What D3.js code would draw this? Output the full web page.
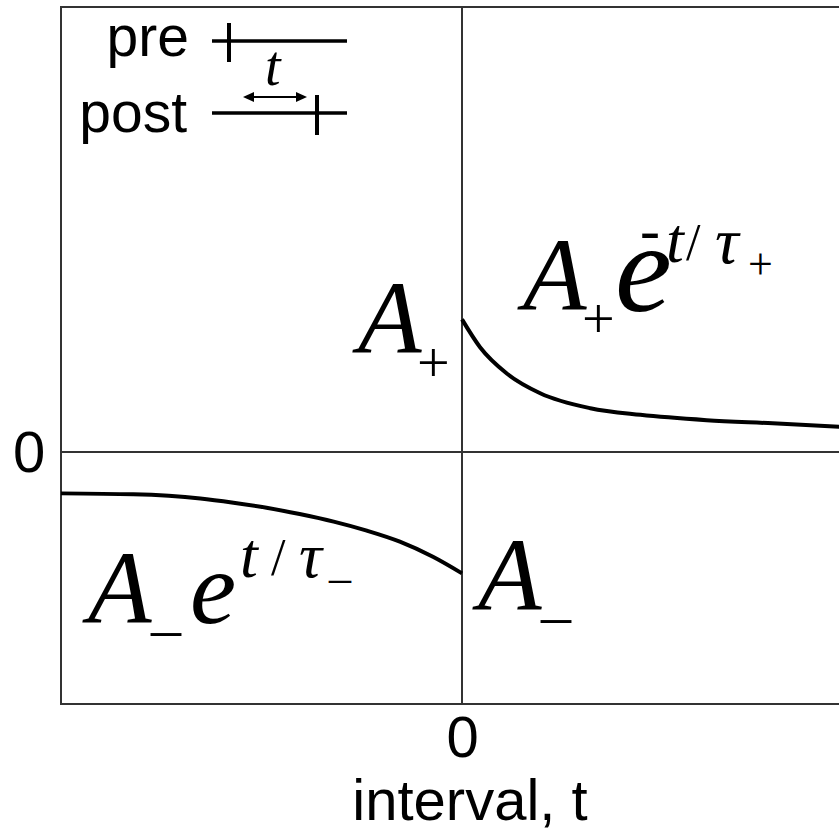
<!DOCTYPE html>
<html>
<head>
<meta charset="utf-8">
<script src="https://cdn.jsdelivr.net/npm/d3@7"></script>
<style>
  html, body { margin: 0; padding: 0; background: #fff; }
  svg { display: block; }
  .sans { font-family: "Liberation Sans", Arial, sans-serif; fill: #000; }
  .math { font-family: "Liberation Serif", "Times New Roman", serif; fill: #000; }
</style>
</head>
<body>
<script>
// STDP window: weight change versus spike interval t (post - pre)
const intervalDomain = [-40, 40];
const weightDomain = [-1.9, 3.355];

// depression branch, t < 0
const preTimes = [-40, -32.8, -26.1, -22.8, -19.5, -16.2, -12.8, -9.5, -6.2, -2.9, 0];
const depressionValues = [-0.312, -0.319, -0.35, -0.382, -0.42, -0.468, -0.525, -0.593, -0.676, -0.79, -0.915];

// potentiation branch, t > 0
const postTimes = [0, 1.8, 4.5, 7.8, 12.8, 17.8, 24.4, 31.0, 37.6, 40];
const potentiationValues = [1.0, 0.79, 0.59, 0.443, 0.33, 0.28, 0.24, 0.216, 0.19, 0.18];

const xTicks = [0];
const yTicks = [0];
const xTitle = "interval, t";

const W = 839, H = 832;
const svg = d3.select("body").append("svg").attr("width", W).attr("height", H);

const x = d3.scaleLinear().domain(intervalDomain).range([61, 863]);
const y = d3.scaleLinear().domain(weightDomain).range([704, 7]);

const axisColor = "#333";

// frame
svg.append("rect")
  .attr("x", x(intervalDomain[0])).attr("y", y(weightDomain[1]))
  .attr("width", x(intervalDomain[1]) - x(intervalDomain[0]))
  .attr("height", y(weightDomain[0]) - y(weightDomain[1]))
  .attr("fill", "none").attr("stroke", axisColor).attr("stroke-width", 2);

// zero lines
svg.append("line")
  .attr("x1", x(intervalDomain[0])).attr("x2", x(intervalDomain[1]))
  .attr("y1", y(0)).attr("y2", y(0))
  .attr("stroke", axisColor).attr("stroke-width", 2);
svg.append("line")
  .attr("x1", x(0)).attr("x2", x(0))
  .attr("y1", y(weightDomain[1])).attr("y2", y(weightDomain[0]))
  .attr("stroke", axisColor).attr("stroke-width", 2);

// axes: only the zero labels
const xAxis = svg.append("g")
  .attr("transform", `translate(0,${y(weightDomain[0])})`)
  .call(d3.axisBottom(x).tickValues(xTicks).tickSize(0).tickPadding(53).tickFormat(d3.format("d")));
xAxis.select(".domain").remove();
xAxis.selectAll("text").attr("class", "sans").attr("font-size", 58).attr("dy", 0);

const yAxis = svg.append("g")
  .attr("transform", `translate(${x(intervalDomain[0])},0)`)
  .call(d3.axisLeft(y).tickValues(yTicks).tickSize(0).tickPadding(0).tickFormat(d3.format("d")));
yAxis.select(".domain").remove();
yAxis.selectAll("text").attr("class", "sans").attr("font-size", 58)
  .attr("text-anchor", "middle").attr("x", 29 - x(intervalDomain[0])).attr("dy", 20);

svg.append("text").attr("class", "sans").attr("font-size", 58)
  .attr("x", 470).attr("y", 820).attr("text-anchor", "middle").text(xTitle);

// curves
const line = d3.line().x(d => x(d[0])).y(d => y(d[1])).curve(d3.curveMonotoneX);
svg.append("path")
  .datum(d3.zip(preTimes, depressionValues))
  .attr("d", line).attr("fill", "none").attr("stroke", "#000").attr("stroke-width", 4);
svg.append("path")
  .datum(d3.zip(postTimes, potentiationValues))
  .attr("d", line).attr("fill", "none").attr("stroke", "#000").attr("stroke-width", 4);

// legend: spike trains
const legend = svg.append("g");
legend.append("text").attr("class", "sans").attr("font-size", 57)
  .attr("x", 189).attr("y", 56).attr("text-anchor", "end").text("pre");
legend.append("text").attr("class", "sans").attr("font-size", 57)
  .attr("x", 187).attr("y", 132).attr("text-anchor", "end").text("post");
legend.append("line").attr("x1", 212).attr("x2", 347).attr("y1", 41).attr("y2", 41)
  .attr("stroke", "#000").attr("stroke-width", 3.5);
legend.append("line").attr("x1", 229).attr("x2", 229).attr("y1", 23).attr("y2", 62)
  .attr("stroke", "#000").attr("stroke-width", 4);
legend.append("line").attr("x1", 212).attr("x2", 347).attr("y1", 113).attr("y2", 113)
  .attr("stroke", "#000").attr("stroke-width", 3.5);
legend.append("line").attr("x1", 317).attr("x2", 317).attr("y1", 95).attr("y2", 135)
  .attr("stroke", "#000").attr("stroke-width", 4);
// double-headed arrow for the interval
legend.append("line").attr("x1", 250).attr("x2", 300).attr("y1", 97).attr("y2", 97)
  .attr("stroke", "#000").attr("stroke-width", 2);
legend.append("path").attr("d", "M243,97 L254,92 L254,102 Z").attr("fill", "#000");
legend.append("path").attr("d", "M307,97 L296,92 L296,102 Z").attr("fill", "#000");
legend.append("text").attr("class", "math").attr("font-style", "italic").attr("font-size", 56)
  .attr("x", 265).attr("y", 85).text("t");

// formula labels: each one text element, glyphs placed as tspans
// part = [string, size, x, baseline, italic]
function formula(parts) {
  const t = svg.append("text").attr("class", "math");
  parts.forEach(([s, size, px, py, it]) => {
    t.append("tspan")
      .attr("x", px).attr("y", py)
      .attr("font-size", size)
      .attr("font-style", it ? "italic" : "normal")
      .text(s);
  });
}

// A+ at t = 0
formula([
  ["A", 104, 358, 353, true],
  ["+", 58, 417, 382, false]
]);

// A+ e^{-t/tau+}
formula([
  ["A", 104, 523, 310, true],
  ["+", 58, 582, 338, false],
  ["e", 128, 615, 311, true],
  ["-", 60, 640, 250, false],
  ["t", 64, 666, 262, true],
  ["/", 52, 686, 260, false],
  ["τ", 66, 715, 263, true],
  ["+", 44, 748, 279, false]
]);

// A- e^{t/tau-}
formula([
  ["A", 104, 88, 623, true],
  ["_", 60, 151, 628, false],
  ["e", 104, 190, 623, true],
  ["t", 64, 240, 577, true],
  ["/", 52, 271, 575, false],
  ["τ", 64, 299, 577, true],
  ["_", 44, 329, 577, false]
]);

// A- at t = 0
formula([
  ["A", 104, 478, 610, true],
  ["_", 60, 541, 615, false]
]);
</script>
</body>
</html>
